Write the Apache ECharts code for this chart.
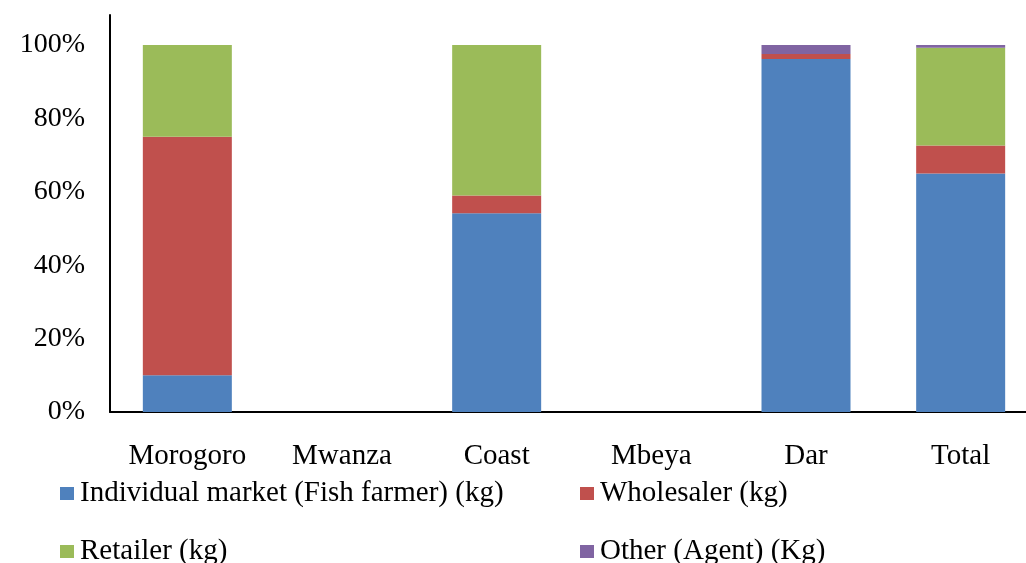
<!DOCTYPE html>
<html>
<head>
<meta charset="utf-8">
<style>
  html, body { margin: 0; padding: 0; background: #ffffff; overflow: hidden; }
  #chart { width: 1040px; height: 563px; }
</style>
<script src="https://cdn.jsdelivr.net/npm/echarts@6/dist/echarts.min.js"></script>
</head>
<body>
<div id="chart"></div>
<script>
// Share of fish sold per market channel, by region (percent of kg)
const regions = ['Morogoro', 'Mwanza', 'Coast', 'Mbeya', 'Dar', 'Total'];
const individualMarket = [10, 0, 54.2, 0, 96.2, 65.0];
const wholesaler       = [65, 0, 4.8, 0, 1.4, 7.6];
const retailer         = [25, 0, 41.0, 0, 0, 26.7];
const otherAgent       = [0, 0, 0, 0, 2.4, 0.7];
const yTicks = [0, 20, 40, 60, 80, 100];

const seriesNames = [
  'Individual market (Fish farmer) (kg)',
  'Wholesaler (kg)',
  'Retailer (kg)',
  'Other (Agent) (Kg)'
];
const seriesColors = ['#4F81BD', '#C0504D', '#9BBB59', '#8064A2'];
const seriesData = [individualMarket, wholesaler, retailer, otherAgent];

const fontFamily = '"Liberation Serif", "Times New Roman", serif';

const chart = echarts.init(document.getElementById('chart'), null, { renderer: 'canvas' });

// one legend entry per block: two columns, two rows
const legendSlots = [
  { left: 55, top: 474 },
  { left: 575, top: 474 },
  { left: 55, top: 532 },
  { left: 575, top: 532 }
];
const legends = seriesNames.map((name, i) => ({
  left: legendSlots[i].left,
  top: legendSlots[i].top,
  itemWidth: 14,
  itemHeight: 13,
  itemGap: 0,
  icon: 'rect',
  textStyle: { fontFamily: fontFamily, fontSize: 29, color: '#000', padding: [0, 0, 0, 1] },
  data: [name]
}));

chart.setOption({
  animation: false,
  backgroundColor: '#ffffff',
  grid: { left: 110, top: 15, width: 928, bottom: 151, containLabel: false },
  legend: legends,
  xAxis: {
    type: 'category',
    data: regions,
    axisLine: { lineStyle: { color: '#000', width: 2 } },
    axisTick: { show: false },
    axisLabel: { fontFamily: fontFamily, fontSize: 29, color: '#000', margin: 30 }
  },
  yAxis: {
    type: 'value',
    min: 0,
    max: 108.2,
    interval: 20,
    axisLine: { show: true, lineStyle: { color: '#000', width: 2 } },
    axisTick: { show: false },
    splitLine: { show: false },
    axisLabel: {
      fontFamily: fontFamily, fontSize: 28, color: '#000', margin: 25,
      showMaxLabel: false,
      formatter: function (v) {
        return yTicks.some(t => Math.abs(t - v) < 1e-6) ? v + '%' : '';
      }
    }
  },
  series: seriesData.map((d, i) => ({
    name: seriesNames[i],
    type: 'bar',
    stack: 'share',
    barWidth: 89,
    data: d,
    itemStyle: { color: seriesColors[i] },
    emphasis: { disabled: true }
  }))
});
</script>
</body>
</html>
